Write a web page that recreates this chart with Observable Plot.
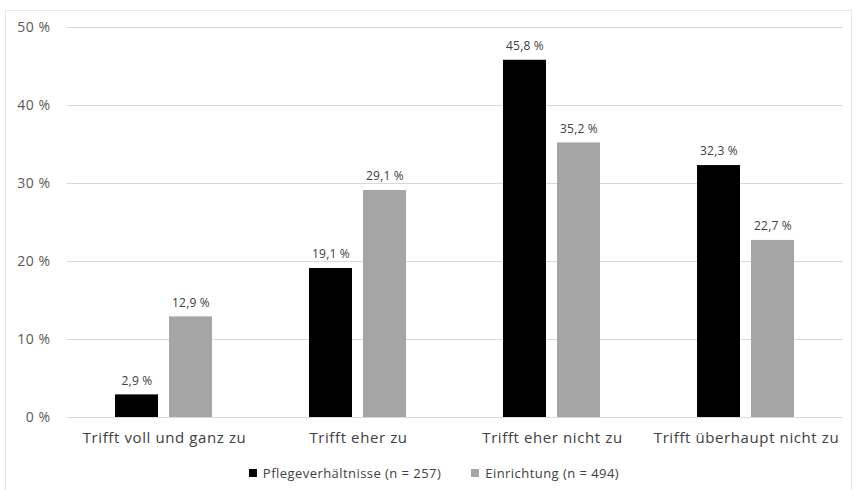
<!DOCTYPE html>
<html>
<head>
<meta charset="utf-8">
<script src="https://cdn.jsdelivr.net/npm/d3@7"></script>
<script src="https://cdn.jsdelivr.net/npm/@observablehq/plot@0.6"></script>
<style>
  html, body { margin: 0; padding: 0; background: #fff; }
  body { width: 854px; height: 490px; position: relative; overflow: hidden; font-family: "Open Sans", sans-serif; }
  #frame { position: absolute; left: 5px; top: 10px; width: 847px; height: 500px; border: 1px solid #e8e8e8; box-sizing: border-box; }
  #chart { position: absolute; left: 0; top: 0; }
  #chart svg g[aria-label="fx-axis tick label"] text { letter-spacing: 0.6px; }
  #chart svg g[aria-label="y-axis tick label"] text { letter-spacing: 0.5px; }
  #chart svg g[aria-label="text"] text { letter-spacing: 0.2px; }
  #legend { position: absolute; left: 0; top: 464px; width: 854px; display: flex; justify-content: center; gap: 30px; font-size: 13px; letter-spacing: 0.45px; color: #404040; padding-left: 14px; box-sizing: border-box; }
  #legend .item { display: flex; align-items: center; gap: 6px; }
  #legend .sw { width: 8px; height: 8px; display: inline-block; }
</style>
</head>
<body>
<div id="frame"></div>
<div id="chart"></div>
<div id="legend"></div>
<script>
const categories = ["Trifft voll und ganz zu", "Trifft eher zu", "Trifft eher nicht zu", "Trifft überhaupt nicht zu"];
const seriesNames = ["Pflegeverhältnisse (n = 257)", "Einrichtung (n = 494)"];
const pflegeValues = [2.9, 19.1, 45.8, 32.3];
const einrichtungValues = [12.9, 29.1, 35.2, 22.7];
const yTicks = [0, 10, 20, 30, 40, 50];
const colors = ["#000000", "#a5a5a5"];

const rows = [];
categories.forEach((c, i) => {
  rows.push({cat: c, series: seriesNames[0], value: pflegeValues[i]});
  rows.push({cat: c, series: seriesNames[1], value: einrichtungValues[i]});
});
const fmt = v => String(v.toFixed(1)).replace(".", ",") + " %";

const chart = Plot.plot({
  width: 854,
  height: 455,
  marginLeft: 66,
  marginRight: 11,
  marginTop: 27,
  marginBottom: 38,
  style: {fontFamily: "'Open Sans', sans-serif", background: "transparent"},
  fx: {domain: categories, padding: 0, label: null, axis: null},
  x: {domain: seriesNames, paddingInner: 0.2, paddingOuter: 0.866, axis: null},
  y: {domain: [0, 50], label: null, axis: null},
  color: {domain: seriesNames, range: colors},
  marks: [
    Plot.gridY(yTicks, {stroke: "#d9d9d9", strokeOpacity: 1}),
    Plot.axisY(yTicks, {tickSize: 0, tickPadding: 17, tickFormat: d => d + " %", fontSize: 14, fill: "#595959", label: null}),
    Plot.axisFx({anchor: "bottom", tickSize: 0, tickPadding: 15, fontSize: 15, fill: "#404040", label: null}),
    Plot.barY(rows, {fx: "cat", x: "series", y: "value", fill: "series"}),
    Plot.text(rows, {fx: "cat", x: "series", y: "value", text: d => fmt(d.value), dy: -14, fontSize: 12, fill: "#404040"})
  ]
});
document.getElementById("chart").appendChild(chart);

const legend = document.getElementById("legend");
seriesNames.forEach((s, i) => {
  const item = document.createElement("span");
  item.className = "item";
  const sw = document.createElement("span");
  sw.className = "sw";
  sw.style.background = colors[i];
  const t = document.createElement("span");
  t.textContent = s;
  item.appendChild(sw);
  item.appendChild(t);
  legend.appendChild(item);
});
</script>
</body>
</html>
